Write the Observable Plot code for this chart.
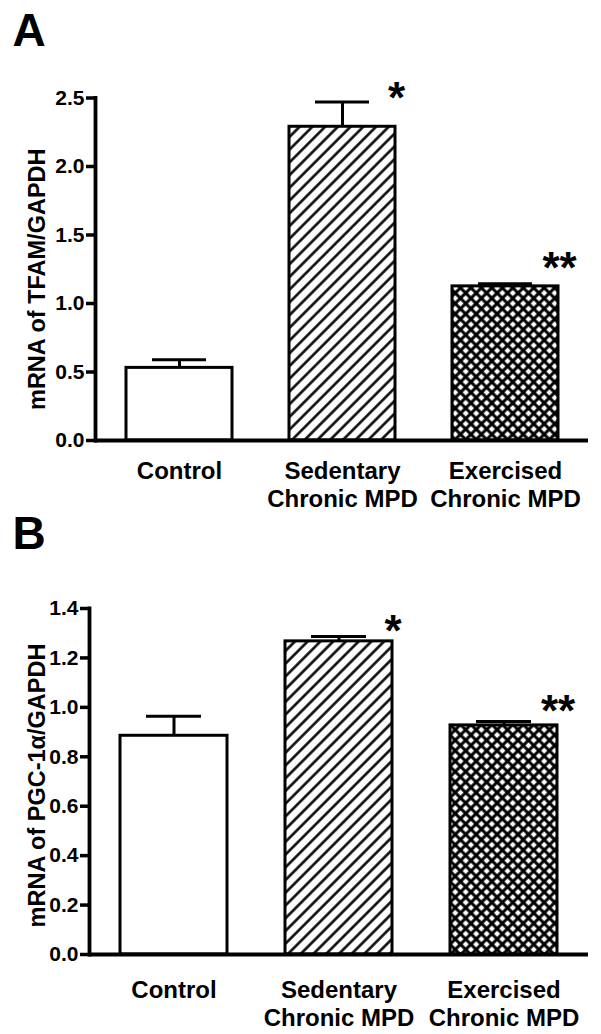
<!DOCTYPE html>
<html>
<head>
<meta charset="utf-8">
<script src="https://cdn.jsdelivr.net/npm/d3@7"></script>
<script src="https://cdn.jsdelivr.net/npm/@observablehq/plot@0.6"></script>
<style>
  html, body { margin: 0; padding: 0; background: white; }
  #chart { width: 601px; }
  #chart svg { display: block; }
</style>
</head>
<body>
<div id="chart"></div>
<script>
// ---- data ----
const categories = ["Control", "Sedentary\nChronic MPD", "Exercised\nChronic MPD"];
const tfamMean = [0.53, 2.29, 1.125];
const tfamErr = [0.06, 0.18, 0.02];
const pgcMean = [0.885, 1.267, 0.927];
const pgcErr = [0.079, 0.02, 0.016];
const significance = ["", "*", "**"];
const ticksA = [0, 0.5, 1.0, 1.5, 2.0, 2.5];
const ticksB = [0, 0.2, 0.4, 0.6, 0.8, 1.0, 1.2, 1.4];
const titleA = "mRNA of TFAM/GAPDH";
const titleB = "mRNA of PGC-1\u03B1/GAPDH";

const FONT = "'Liberation Sans', Arial, Helvetica, sans-serif";

function addPatterns(svg, id) {
  const defs = d3.select(svg).insert("defs", ":first-child");
  const h = defs.append("pattern")
    .attr("id", "hatch-" + id)
    .attr("patternUnits", "userSpaceOnUse")
    .attr("width", 9).attr("height", 9)
    .attr("patternTransform", "rotate(45)");
  h.append("rect").attr("width", 9).attr("height", 9).attr("fill", "white");
  h.append("line").attr("x1", 4.5).attr("y1", -1).attr("x2", 4.5).attr("y2", 10)
    .attr("stroke", "black").attr("stroke-width", 2.5);
  const c = defs.append("pattern")
    .attr("id", "cross-" + id)
    .attr("patternUnits", "userSpaceOnUse")
    .attr("width", 7.4).attr("height", 7.4)
    .attr("patternTransform", "rotate(45)");
  c.append("rect").attr("width", 7.4).attr("height", 7.4).attr("fill", "white");
  c.append("line").attr("x1", 3.7).attr("y1", -1).attr("x2", 3.7).attr("y2", 8.4)
    .attr("stroke", "black").attr("stroke-width", 3);
  c.append("line").attr("x1", -1).attr("y1", 3.7).attr("x2", 8.4).attr("y2", 3.7)
    .attr("stroke", "black").attr("stroke-width", 3);
}

function panel(cfg) {
  const fills = ["white", `url(#hatch-${cfg.id})`, `url(#cross-${cfg.id})`];
  const data = categories.map((c, i) => ({
    cat: c, mean: cfg.means[i], err: cfg.errs[i], star: significance[i],
    fill: fills[i], starDy: cfg.starDy[i]
  }));
  const svg = Plot.plot({
    width: 601,
    height: cfg.height,
    marginTop: cfg.marginTop,
    marginBottom: cfg.marginBottom,
    marginLeft: cfg.marginLeft,
    marginRight: 13,
    style: { fontFamily: FONT, color: "black", background: "white", overflow: "visible" },
    x: { domain: categories, paddingInner: 0.35, paddingOuter: 0.18, axis: null },
    y: { domain: cfg.domain },
    color: { type: "identity" },
    marks: [
      Plot.barY(data, { x: "cat", y: "mean", fill: "fill", stroke: "black", strokeWidth: 3 }),
      Plot.ruleX(data, { x: "cat", y1: "mean", y2: d => d.mean + d.err, stroke: "black", strokeWidth: 3 }),
      Plot.tickY(data, { x: "cat", y: d => d.mean + d.err, insetLeft: 26, insetRight: 26, stroke: "black", strokeWidth: 3 }),
      Plot.axisY({ ticks: cfg.ticks, tickSize: 9, tickPadding: 2, strokeWidth: 3.5,
        fontSize: 21, fontWeight: "bold", tickFormat: d3.format(".1f"), label: null }),
      Plot.frame({ anchor: "left", stroke: "black", strokeWidth: 3.8 }),
      Plot.ruleY([0], { stroke: "black", strokeWidth: 3.8 }),
      Plot.text(data, { x: "cat", text: "cat", frameAnchor: "bottom", lineAnchor: "top",
        dy: cfg.labelDy, fontSize: 24, fontWeight: "bold", lineHeight: 1.18 }),
      ...data.filter(d => d.star).map(d =>
        Plot.text([d], { x: "cat", y: v => v.mean + v.err, text: "star", dx: 54, dy: d.starDy,
          fontSize: 44, fontWeight: "bold", lineAnchor: "bottom" })),
      Plot.text([cfg.title], { frameAnchor: "left", rotate: -90, dx: 44 - cfg.marginLeft,
        dy: cfg.titleDy, fontSize: 23.5, fontWeight: "bold", lineAnchor: "bottom", textAnchor: "middle" }),
      Plot.text([cfg.letter], { frameAnchor: "top-left", dx: cfg.letterDx, dy: cfg.letterDy,
        fontSize: 46, fontWeight: "bold", textAnchor: "start", lineAnchor: "bottom" })
    ]
  });
  addPatterns(svg, cfg.id);
  return svg;
}

const chart = document.getElementById("chart");
chart.appendChild(panel({
  id: "A", letter: "A", means: tfamMean, errs: tfamErr, ticks: ticksA, domain: [0, 2.5],
  title: titleA, height: 510, marginTop: 97.5, marginBottom: 70, marginLeft: 95,
  labelDy: 18, titleDy: 10, letterDx: -83, letterDy: -52.5, starDy: [0, 11, -1]
}));
chart.appendChild(panel({
  id: "B", letter: "B", means: pgcMean, errs: pgcErr, ticks: ticksB, domain: [0, 1.4],
  title: titleB, height: 524, marginTop: 98, marginBottom: 80, marginLeft: 89,
  labelDy: 23, titleDy: 4, letterDx: -77, letterDy: -60, starDy: [0, 10, 5]
}));
</script>
</body>
</html>
